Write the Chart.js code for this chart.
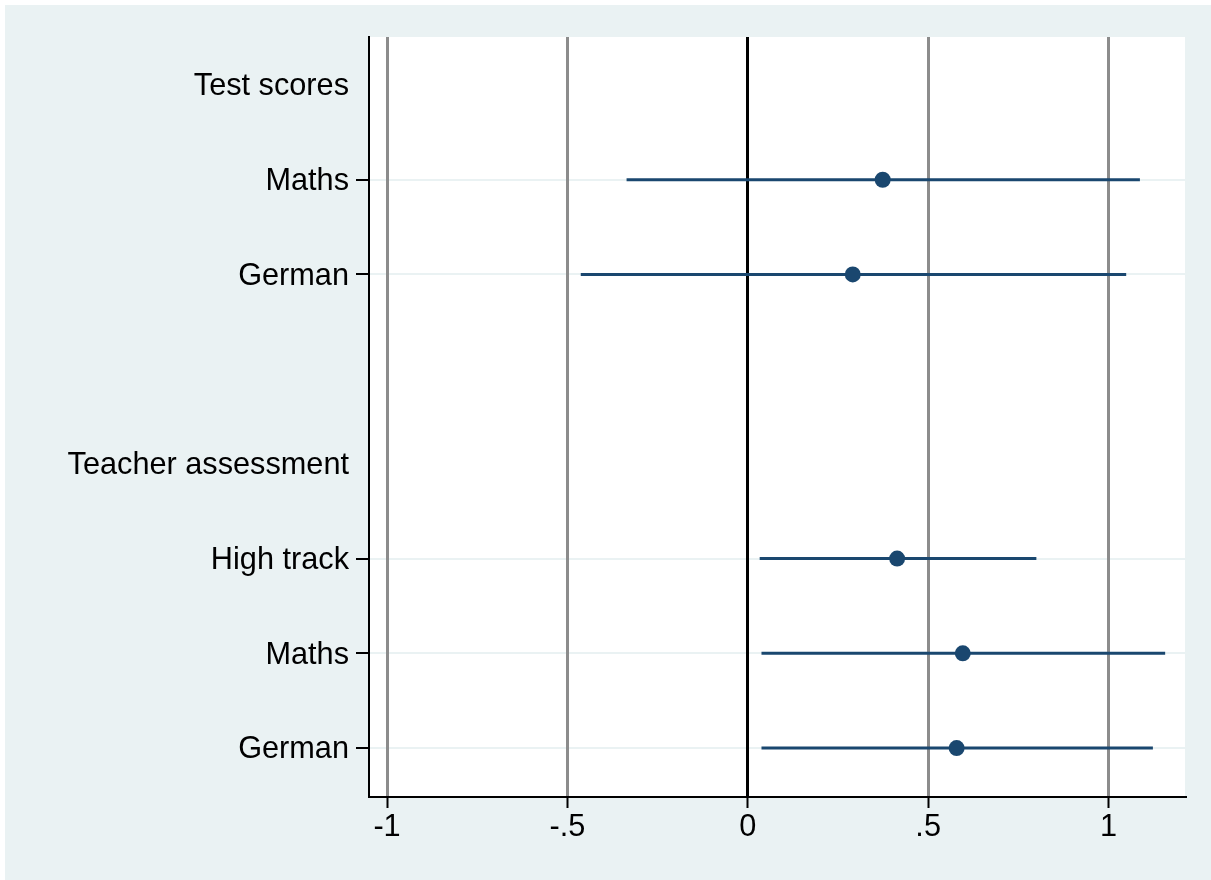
<!DOCTYPE html>
<html>
<head>
<meta charset="utf-8">
<title>Coefficient plot</title>
<script src="https://cdn.jsdelivr.net/npm/chart.js@4.4.1/dist/chart.umd.min.js"></script>
<style>
  html, body { margin: 0; padding: 0; background: #ffffff; }
  canvas { display: block; }
</style>
</head>
<body>
<canvas id="graficoCoef" width="1211" height="880"></canvas>
<script>
// group headings and their row positions (row 0 = top)
const groupLabels = ['Test scores', 'Teacher assessment'];
const groupRows = [0, 4];

// outcomes
const outcomeLabels = ['Maths', 'German', 'High track', 'Maths', 'German'];
const outcomeRows = [1, 2, 5, 6, 7];
const estimates = [0.374, 0.291, 0.414, 0.596, 0.579];
const ciLower = [-0.336, -0.463, 0.033, 0.038, 0.038];
const ciUpper = [1.087, 1.049, 0.800, 1.157, 1.123];

// x axis ticks
const xTicks = [-1, -0.5, 0, 0.5, 1];
const xTickLabels = ['-1', '-.5', '0', '.5', '1'];

const navy = '#1a476f';
const bgLight = '#eaf2f3';

// label for every row
function etiquetaFila(v) {
  let i = groupRows.indexOf(v);
  if (i >= 0) return groupLabels[i];
  i = outcomeRows.indexOf(v);
  if (i >= 0) return outcomeLabels[i];
  return '';
}

// fondo: marco blanco, fondo gris-azul, area del grafico blanca
const fondoPlugin = {
  id: 'fondo',
  beforeDraw(chart) {
    const ctx = chart.ctx;
    const a = chart.chartArea;
    ctx.save();
    ctx.fillStyle = '#ffffff';
    ctx.fillRect(0, 0, chart.width, chart.height);
    ctx.fillStyle = bgLight;
    ctx.fillRect(5, 5, chart.width - 5, chart.height - 5);
    ctx.fillStyle = '#ffffff';
    ctx.fillRect(a.left, a.top, a.right - a.left, a.bottom - a.top);
    ctx.restore();
  }
};

Chart.defaults.font.family = '"Liberation Sans", Arial, sans-serif';
Chart.defaults.font.size = 30.7;
Chart.defaults.color = '#000000';

const datasets = [];
for (let i = 0; i < estimates.length; i++) {
  datasets.push({
    type: 'line',
    data: [{ x: ciLower[i], y: outcomeRows[i] }, { x: ciUpper[i], y: outcomeRows[i] }],
    borderColor: navy,
    borderWidth: 3,
    pointRadius: 0,
    showLine: true,
    order: 2
  });
}
datasets.push({
  type: 'scatter',
  data: estimates.map((v, i) => ({ x: v, y: outcomeRows[i] })),
  backgroundColor: navy,
  borderWidth: 0,
  pointRadius: 8,
  order: 1
});

const ctx = document.getElementById('graficoCoef');
new Chart(ctx, {
  type: 'scatter',
  data: { datasets: datasets },
  plugins: [fondoPlugin],
  options: {
    responsive: false,
    animation: false,
    devicePixelRatio: 1,
    layout: { padding: { left: 0, right: 26, top: 37, bottom: 0 } },
    plugins: { legend: { display: false }, tooltip: { enabled: false } },
    scales: {
      x: {
        type: 'linear',
        min: -1.05,
        max: 1.212,
        afterBuildTicks: (scale) => { scale.ticks = xTicks.map(v => ({ value: v })); },
        afterFit: (scale) => { scale.height = 83; },
        ticks: {
          autoSkip: false,
          maxRotation: 0,
          padding: 1,
          callback: (v) => xTickLabels[xTicks.indexOf(v)]
        },
        grid: {
          color: (c) => (c.tick && c.tick.value === 0) ? '#000000' : '#8c8c8c',
          lineWidth: 3,
          tickColor: '#000000',
          tickWidth: 2,
          tickLength: 11
        },
        border: { display: true, color: '#000000', width: 2 }
      },
      y: {
        type: 'linear',
        reverse: true,
        min: -0.507,
        max: 7.517,
        afterBuildTicks: (scale) => {
          scale.ticks = groupRows.concat(outcomeRows).sort((a, b) => a - b).map(v => ({ value: v }));
        },
        afterFit: (scale) => { scale.width = 369; },
        ticks: {
          autoSkip: false,
          padding: 7,
          labelOffset: 2,
          callback: (v) => etiquetaFila(v)
        },
        grid: {
          z: -2, // debajo de las lineas verticales
          color: (c) => (c.tick && groupRows.includes(c.tick.value)) ? 'rgba(0,0,0,0)' : bgLight,
          lineWidth: 2,
          tickColor: (c) => (c.tick && groupRows.includes(c.tick.value)) ? 'rgba(0,0,0,0)' : '#000000',
          tickWidth: 2,
          tickLength: 13
        },
        border: { display: true, color: '#000000', width: 2 }
      }
    }
  }
});
</script>
</body>
</html>
